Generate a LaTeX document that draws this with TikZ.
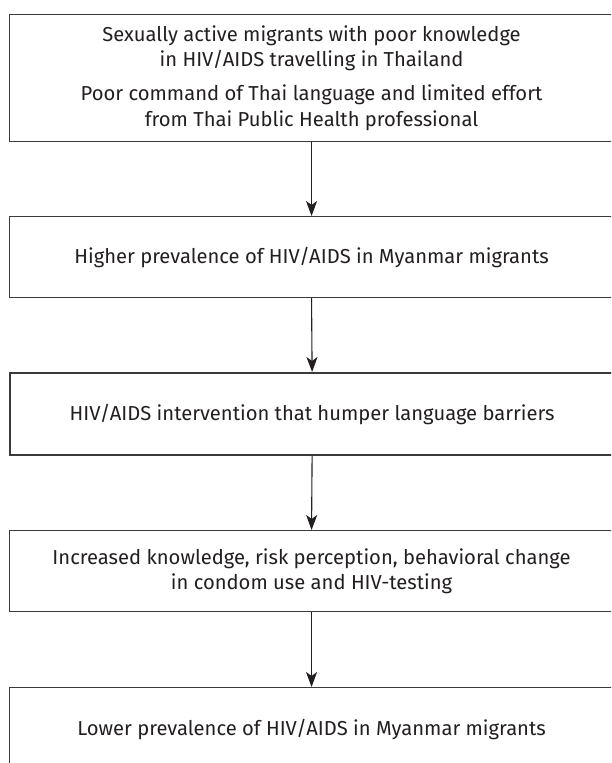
\documentclass[tikz,border=0pt]{standalone}
\usepackage{fontspec}
\setmainfont{Fira Sans}
\usetikzlibrary{arrows.meta}
\definecolor{ink}{HTML}{231F20}
\definecolor{edge}{HTML}{3A3A3A}
\begin{document}
\begin{tikzpicture}[x=1pt,y=-1pt,
  box/.style={draw=edge, line width=1.1pt, anchor=north west, minimum width=604pt,
    inner sep=0pt, align=center, text=ink, font=\fontsize{20.2}{25.5}\selectfont},
  thickbox/.style={box, line width=2.2pt},
  arr/.style={draw=ink, line width=1.1pt, -{Stealth[length=15pt, width=11pt, inset=4pt]}}]
\useasboundingbox (0,0) rectangle (611,763);
\clip (0,0) rectangle (611,763);
\fill[white] (0,0) rectangle (611,763);
\node[box, minimum height=127pt] (b1) at (9,14)
  {Sexually active migrants with poor knowledge\\
   in HIV/AIDS travelling in Thailand\\[8.5pt]
   Poor command of Thai language and limited effort\\
   from Thai Public Health professional};
\node[box, minimum height=81pt] (b2) at (9,216)
  {Higher prevalence of HIV/AIDS in Myanmar migrants};
\node[thickbox, minimum height=82pt] (b3) at (9,372)
  {HIV/AIDS intervention that humper language barriers};
\node[box, minimum height=81pt] (b4) at (9,530)
  {Increased knowledge, risk perception, behavioral change\\
   in condom use and HIV-testing};
\node[box, minimum height=84pt] (b5) at (9,687)
  {Lower prevalence of HIV/AIDS in Myanmar migrants};
\draw[arr] (b1.south) -- (b2.north);
\draw[arr] (b2.south) -- (b3.north);
\draw[arr] (b3.south) -- (b4.north);
\draw[arr] (b4.south) -- (b5.north);
\end{tikzpicture}
\end{document}
